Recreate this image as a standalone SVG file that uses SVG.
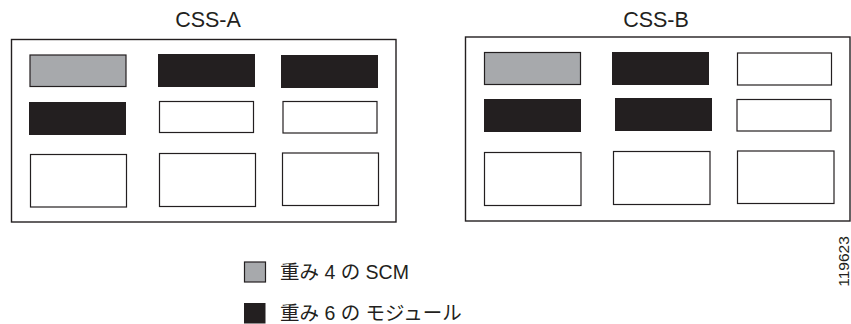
<svg xmlns="http://www.w3.org/2000/svg" width="851" height="324" viewBox="0 0 851 324">
<style>
.t{font-family:"Liberation Sans",Arial,sans-serif;fill:#231f20}
.j{font-family:"Liberation Sans","Noto Sans CJK JP",sans-serif;fill:#231f20}
.box{fill:#fff;stroke:#231f20;stroke-width:1.4}
.g{fill:#a7a9ac;stroke:#231f20;stroke-width:1.2}
.k{fill:#231f20;stroke:none}
.w{fill:#fff;stroke:#231f20;stroke-width:1.2}
</style>
<rect width="851" height="324" fill="#fff"/>
<g id="css-a">
<text class="t" x="208" y="27" font-size="21.5" text-anchor="middle">CSS-A</text>
<rect class="box" x="11.5" y="39.5" width="384.5" height="182.5"/>
<rect class="g" x="30" y="55" width="96" height="31.5"/>
<rect class="k" x="158" y="54" width="97" height="33"/>
<rect class="k" x="281" y="55" width="97" height="33"/>
<rect class="k" x="29" y="102" width="97" height="33"/>
<rect class="w" x="159.5" y="101.5" width="94" height="31"/>
<rect class="w" x="283" y="101.5" width="94" height="31.5"/>
<rect class="w" x="30.5" y="154.5" width="96" height="52.5"/>
<rect class="w" x="159.5" y="153.5" width="96" height="53"/>
<rect class="w" x="282.5" y="153" width="96" height="52.5"/>
</g>
<g id="css-b">
<text class="t" x="656" y="27" font-size="21.5" text-anchor="middle">CSS-B</text>
<rect class="box" x="465.5" y="37" width="384.5" height="184"/>
<rect class="g" x="484.5" y="52.5" width="96" height="32"/>
<rect class="k" x="612" y="52" width="97" height="33"/>
<rect class="w" x="737.5" y="53" width="94" height="32"/>
<rect class="k" x="484" y="99" width="97" height="33"/>
<rect class="k" x="615" y="98" width="97" height="33"/>
<rect class="w" x="737" y="99.5" width="94" height="31.5"/>
<rect class="w" x="484.5" y="152.5" width="96.5" height="53"/>
<rect class="w" x="613.5" y="151.5" width="96.5" height="53"/>
<rect class="w" x="737.5" y="151" width="96.5" height="52.5"/>
</g>
<g id="legend">
<rect class="g" x="244.5" y="262" width="21" height="20"/>
<text class="j" x="280" y="279" font-size="19.5" xml:space="preserve">重み 4 の SCM</text>
<rect class="k" x="244" y="303" width="21.5" height="20.5"/>
<text class="j" x="280" y="319.5" font-size="19.5" xml:space="preserve">重み 6 の モジュール</text>
</g>
<text class="t" transform="translate(848.5 261.5) rotate(-90)" font-size="15.5" text-anchor="middle">119623</text>
</svg>
